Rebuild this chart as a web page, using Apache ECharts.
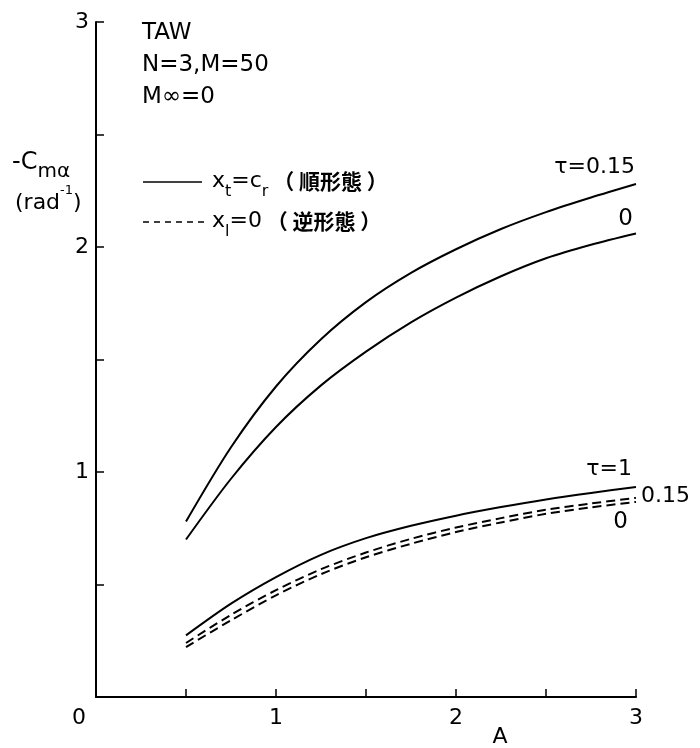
<!DOCTYPE html>
<html>
<head>
<meta charset="utf-8">
<script src="https://cdn.jsdelivr.net/npm/echarts@6/dist/echarts.min.js"></script>
<style>
html,body{margin:0;padding:0;background:#fff;}
#chart{width:700px;height:748px;}
</style>
</head>
<body>
<div id="chart"></div>
<script>
// ---- data ----
var aspectRatio = [0.5, 0.75, 1, 1.25, 1.5, 1.75, 2, 2.25, 2.5, 2.75, 3];
var normalTau015 = [0.78, 1.11, 1.38, 1.59, 1.755, 1.885, 1.99, 2.08, 2.155, 2.22, 2.28];
var normalTau0   = [0.70, 0.97, 1.20, 1.385, 1.535, 1.665, 1.775, 1.87, 1.95, 2.01, 2.06];
var lowerTau1    = [0.274, 0.415, 0.533, 0.632, 0.706, 0.761, 0.806, 0.844, 0.878, 0.907, 0.933];
var reverseTau015 = [0.24, 0.365, 0.475, 0.568, 0.642, 0.703, 0.753, 0.795, 0.832, 0.86, 0.885];
var reverseTau0   = [0.222, 0.341, 0.452, 0.546, 0.621, 0.681, 0.733, 0.776, 0.814, 0.843, 0.867];
var xTickLabels = ['0', '1', '2', '3'];
var yTickLabels = ['1', '2', '3'];

function pairs(ys) { return aspectRatio.map(function (x, i) { return [x, ys[i]]; }); }

var FONT = "'DejaVu Sans', 'Noto Sans CJK JP', sans-serif";
var CJK = "'Noto Sans CJK JP', 'DejaVu Sans', sans-serif";
var chart = echarts.init(document.getElementById('chart'));

function lineSeries(name, ys, dashed) {
  return {
    name: name, type: 'line', data: pairs(ys), smooth: 0.3,
    showSymbol: false, symbol: 'none',
    lineStyle: { color: '#000', width: 2, type: dashed ? [9, 5] : 'solid' },
    emphasis: { disabled: true }, animation: false
  };
}

var option = {
  backgroundColor: '#fff',
  animation: false,
  grid: { left: 96, right: 64, top: 22, bottom: 51 },
  xAxis: {
    type: 'value', min: 0, max: 3, interval: 0.5,
    axisLine: { show: true, onZero: false, lineStyle: { color: '#000', width: 2 } },
    axisTick: { show: true, inside: true, length: 8, lineStyle: { color: '#000', width: 1.5 } },
    splitLine: { show: false },
    axisLabel: {
      margin: 10, color: '#000', fontFamily: FONT, fontSize: 22,
      formatter: function (v) {
        if (Math.abs(v - Math.round(v)) > 1e-6) return '';
        var s = xTickLabels[Math.round(v)];
        return Math.round(v) === 0 ? '{o|' + s + '}' : s;
      },
      rich: { o: { fontFamily: FONT, fontSize: 22, color: '#000', padding: [0, 34, 0, 0] } }
    }
  },
  yAxis: {
    type: 'value', min: 0, max: 3, interval: 0.5,
    axisLine: { show: true, onZero: false, lineStyle: { color: '#000', width: 2 } },
    axisTick: { show: true, inside: true, length: 8, lineStyle: { color: '#000', width: 1.5 } },
    splitLine: { show: false },
    axisLabel: {
      margin: 7, color: '#000', fontFamily: FONT, fontSize: 22,
      formatter: function (v) {
        if (Math.abs(v - Math.round(v)) > 1e-6 || Math.round(v) === 0) return '';
        return yTickLabels[Math.round(v) - 1];
      }
    }
  },
  series: [
    lineSeries('順形態 τ=0.15', normalTau015, false),
    lineSeries('順形態 τ=0', normalTau0, false),
    lineSeries('τ=1', lowerTau1, false),
    lineSeries('逆形態 τ=0.15', reverseTau015, true),
    lineSeries('逆形態 τ=0', reverseTau0, true)
  ]
};
chart.setOption(option);

function px(x, y) { return chart.convertToPixel({ gridIndex: 0 }, [x, y]); }
var base = { fontFamily: FONT, fontSize: 21, fill: '#000' };
function txt(x, y, text, align, vAlign, extra) {
  var st = Object.assign({}, base, { x: x, y: y, text: text, align: align || 'left', verticalAlign: vAlign || 'middle' }, extra || {});
  return { type: 'text', silent: true, style: st };
}
var last = aspectRatio.length - 1;
var pA = px(aspectRatio[last], normalTau015[last]);
var pB = px(aspectRatio[last], normalTau0[last]);
var pC = px(aspectRatio[last], lowerTau1[last]);
var pD = px(aspectRatio[last], reverseTau015[last]);

function legendRich() {
  return {
    b: { fontFamily: FONT, fontSize: 22, fill: '#000', verticalAlign: 'top', lineHeight: 26 },
    s: { fontFamily: FONT, fontSize: 16, fill: '#000', verticalAlign: 'bottom', lineHeight: 29 },
    c: { fontFamily: CJK, fontSize: 21, fontWeight: 'bold', fill: '#000', verticalAlign: 'top', lineHeight: 26 }
  };
}

var graphics = [
  txt(142, 33, 'TAW', 'left', 'middle', { fontSize: 23 }),
  txt(142, 65, 'N=3,M=50', 'left', 'middle', { fontSize: 23 }),
  txt(142, 97, 'M∞=0', 'left', 'middle', { fontSize: 23 }),
  // y axis name
  { type: 'text', silent: true, style: { x: 12, y: 166, verticalAlign: 'middle',
      text: '{b|-C}{s|mα}', rich: {
        b: { fontFamily: FONT, fontSize: 24, fill: '#000', verticalAlign: 'top', lineHeight: 26 },
        s: { fontFamily: FONT, fontSize: 20, fill: '#000', verticalAlign: 'bottom', lineHeight: 31 } } } },
  { type: 'text', silent: true, style: { x: 15, y: 199, verticalAlign: 'middle',
      text: '{b|(rad}{p|-1}{b|)}', rich: {
        b: { fontFamily: FONT, fontSize: 22, fill: '#000', verticalAlign: 'bottom', lineHeight: 30 },
        p: { fontFamily: FONT, fontSize: 13, fill: '#000', verticalAlign: 'top', lineHeight: 30 } } } },
  // x axis name
  txt(500, 737, 'A', 'center', 'middle', { fontSize: 22 }),
  // legend
  { type: 'line', silent: true, shape: { x1: 143, y1: 182, x2: 202, y2: 182 }, style: { stroke: '#000', lineWidth: 1.5 } },
  { type: 'line', silent: true, shape: { x1: 143, y1: 222, x2: 206, y2: 222 }, style: { stroke: '#000', lineWidth: 1.5, lineDash: [6, 5] } },
  { type: 'text', silent: true, style: { x: 212, y: 185, verticalAlign: 'middle',
      text: '{b|x}{s|t}{b|=c}{s|r}{c| （ 順形態 ）}', rich: legendRich() } },
  { type: 'text', silent: true, style: { x: 212, y: 225, verticalAlign: 'middle',
      text: '{b|x}{s|l}{b|=0}{c| （ 逆形態 ）}', rich: legendRich() } },
  // curve labels
  txt(pA[0] - 1, pA[1] - 17, 'τ=0.15', 'right', 'middle', { fontSize: 22 }),
  txt(pB[0] - 3, pB[1] - 14, '0', 'right', 'middle', { fontSize: 23 }),
  txt(pC[0] - 4, pC[1] - 18, 'τ=1', 'right', 'middle', { fontSize: 22 }),
  txt(pD[0] + 5, pD[1] - 2, '0.15', 'left', 'middle', { fontSize: 22 }),
  txt(pD[0] - 8, pD[1] + 24, '0', 'right', 'middle', { fontSize: 23 })
];
chart.setOption({ graphic: graphics });
</script>
</body>
</html>
